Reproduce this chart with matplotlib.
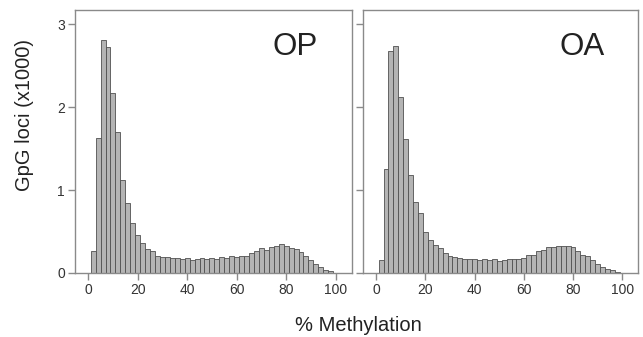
import matplotlib
matplotlib.use("Agg")
import matplotlib.pyplot as plt
import numpy as np

plt.rcParams['font.family'] = ['Liberation Sans', 'DejaVu Sans']

bin_centers = list(range(2, 100, 2))
op_values = [0.27, 1.63, 2.81, 2.73, 2.17, 1.70, 1.12, 0.84, 0.60, 0.46,
             0.36, 0.29, 0.26, 0.20, 0.19, 0.19, 0.18, 0.18, 0.17, 0.18,
             0.16, 0.17, 0.18, 0.17, 0.18, 0.17, 0.19, 0.18, 0.20, 0.19,
             0.21, 0.21, 0.24, 0.27, 0.30, 0.28, 0.31, 0.33, 0.35, 0.33,
             0.30, 0.29, 0.25, 0.20, 0.16, 0.11, 0.07, 0.04, 0.02]
oa_values = [0.16, 1.25, 2.68, 2.74, 2.12, 1.61, 1.18, 0.86, 0.72, 0.50,
             0.40, 0.34, 0.30, 0.24, 0.21, 0.19, 0.18, 0.17, 0.17, 0.17,
             0.16, 0.17, 0.16, 0.17, 0.15, 0.16, 0.17, 0.17, 0.17, 0.18,
             0.22, 0.22, 0.26, 0.28, 0.31, 0.31, 0.32, 0.32, 0.32, 0.31,
             0.27, 0.22, 0.20, 0.16, 0.11, 0.07, 0.05, 0.03, 0.01]
panel_labels = ["OP", "OA"]
x_ticks = [0, 20, 40, 60, 80, 100]
y_ticks = [0, 1, 2, 3]

fig = plt.figure(figsize=(6.43, 3.37), dpi=100)
ax1 = fig.add_axes([0.116, 0.190, 0.431, 0.780])
ax2 = fig.add_axes([0.564, 0.190, 0.4286, 0.780])

frame_col = '#8a8a8a'
for ax, vals, lab in zip([ax1, ax2], [op_values, oa_values], panel_labels):
    ax.bar(bin_centers, vals, width=2.0, color='#b4b4b4', edgecolor='#505050',
           linewidth=0.6, zorder=2)
    ax.set_xlim(-5.5, 106.5)
    ax.set_ylim(0, 3.17)
    ax.set_xticks(x_ticks)
    ax.set_yticks(y_ticks)
    for s in ax.spines.values():
        s.set_color(frame_col)
        s.set_linewidth(1.0)
    ax.tick_params(direction='out', length=5, width=1.0, color=frame_col,
                   labelsize=10, labelcolor='#333333', pad=2)
    ax.text(83.5, 2.72, lab, fontsize=22.5, ha='center', va='center', color='#222222')

ax2.set_yticklabels([])
ax1.text(-0.179, 0.60, "GpG loci (x1000)", fontsize=14.5, rotation=90,
         ha='center', va='center', color='#222222', transform=ax1.transAxes)
fig.text(0.558, 0.035, "% Methylation", fontsize=14.5, ha='center', va='center', color='#222222')

fig.savefig("out.png", dpi=100)
